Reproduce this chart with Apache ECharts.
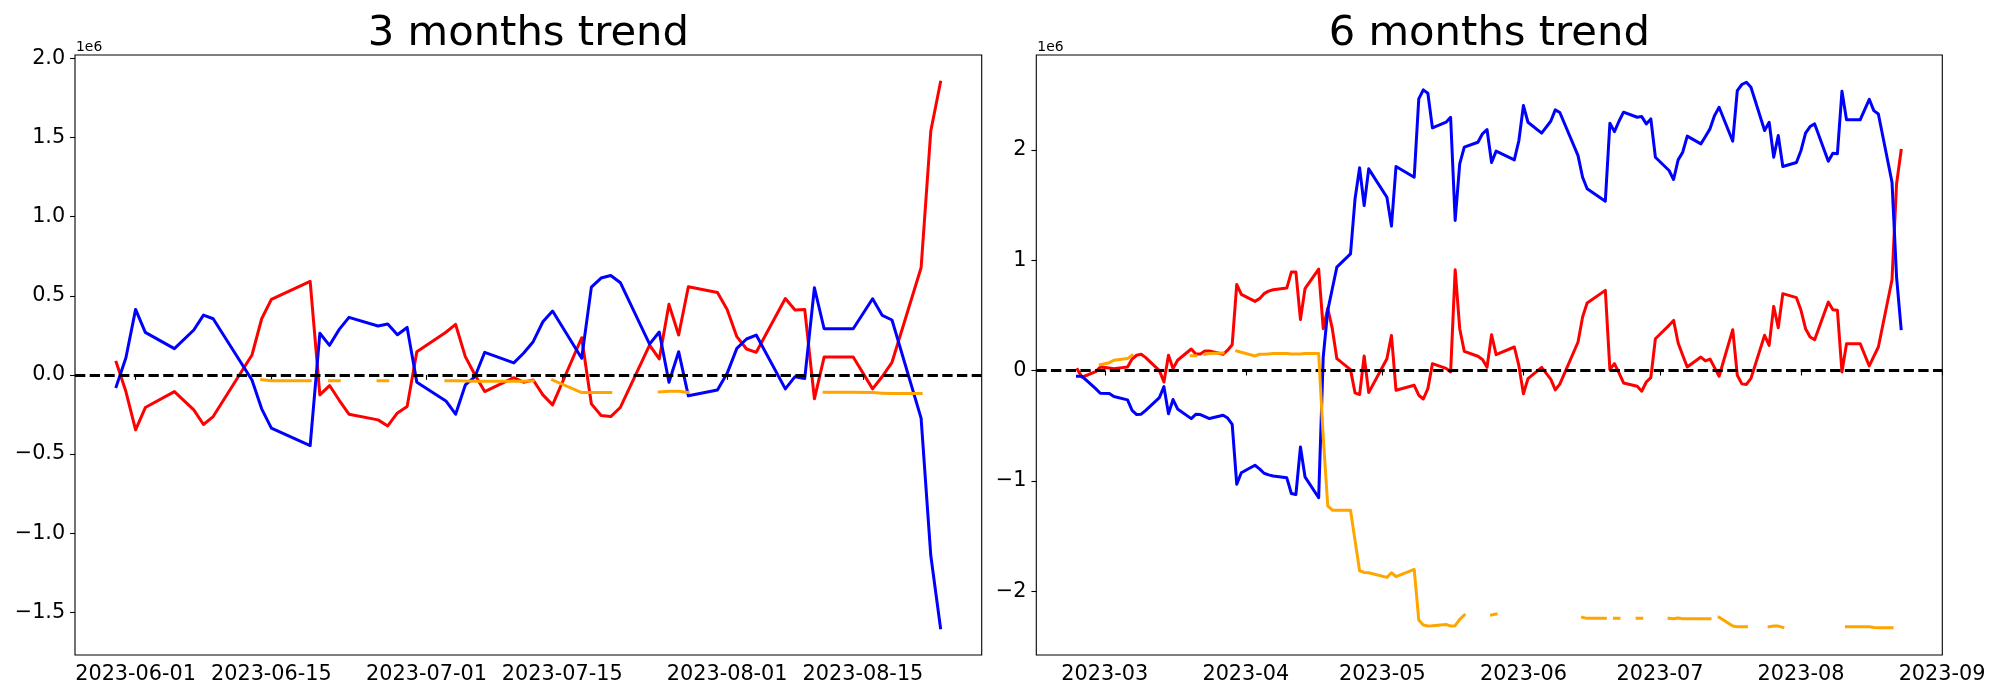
<!DOCTYPE html>
<html><head><meta charset="utf-8">
<script src="https://cdn.jsdelivr.net/npm/echarts@6/dist/echarts.min.js"></script>
<style>html,body{margin:0;padding:0;background:#fff}#c{width:2000px;height:700px}</style>
</head><body><div id="c"></div>
<script>
// ---------- DATA (values in units of 1e6) ----------
const dates6 = ['2023-02-23','2023-02-24','2023-02-27','2023-02-28','2023-03-02','2023-03-03','2023-03-06','2023-03-07','2023-03-08','2023-03-09','2023-03-10','2023-03-13','2023-03-14','2023-03-15','2023-03-16','2023-03-17','2023-03-20','2023-03-21','2023-03-22','2023-03-23','2023-03-24','2023-03-27','2023-03-28','2023-03-29','2023-03-30','2023-03-31','2023-04-03','2023-04-04','2023-04-05','2023-04-06','2023-04-07','2023-04-10','2023-04-11','2023-04-12','2023-04-13','2023-04-14','2023-04-17','2023-04-18','2023-04-19','2023-04-20','2023-04-21','2023-04-24','2023-04-25','2023-04-26','2023-04-27','2023-04-28','2023-05-02','2023-05-03','2023-05-04','2023-05-08','2023-05-09','2023-05-10','2023-05-11','2023-05-12','2023-05-15','2023-05-16','2023-05-17','2023-05-18','2023-05-19','2023-05-22','2023-05-23','2023-05-24','2023-05-25','2023-05-26',
'2023-05-30','2023-05-31','2023-06-01','2023-06-02','2023-06-05','2023-06-07','2023-06-08','2023-06-09','2023-06-13','2023-06-14','2023-06-15','2023-06-19','2023-06-20','2023-06-21','2023-06-22','2023-06-23','2023-06-26','2023-06-27','2023-06-28','2023-06-29','2023-06-30','2023-07-03','2023-07-04','2023-07-05','2023-07-06','2023-07-07','2023-07-10','2023-07-11','2023-07-12','2023-07-13','2023-07-14','2023-07-17','2023-07-18','2023-07-19','2023-07-20','2023-07-21','2023-07-24','2023-07-25','2023-07-26','2023-07-27','2023-07-28','2023-07-31','2023-08-01','2023-08-02','2023-08-03','2023-08-04','2023-08-07','2023-08-08','2023-08-09','2023-08-10','2023-08-11','2023-08-14','2023-08-16','2023-08-17','2023-08-18','2023-08-21','2023-08-22','2023-08-23'];
const red6 = [0.01,-0.06,-0.01,0.033,0.024,0.018,0.033,0.105,0.139,0.148,0.118,0.0,-0.103,0.139,0.018,0.094,0.196,0.15,0.15,0.178,0.178,0.148,0.185,0.235,0.781,0.691,0.627,0.652,0.697,0.72,0.733,0.748,0.893,0.893,0.462,0.742,0.92,0.38,0.565,0.38,0.108,0.009,-0.202,-0.217,0.132,-0.199,0.108,0.319,-0.178,-0.133,-0.223,-0.257,-0.163,0.063,0.02,-0.012,0.914,0.38,0.175,0.13,0.1,0.03,0.325,0.145,
0.214,0.045,-0.21,-0.072,0.03,-0.077,-0.175,-0.122,0.259,0.485,0.612,0.727,0.009,0.063,-0.02,-0.112,-0.142,-0.187,-0.103,-0.064,0.289,0.41,0.455,0.25,0.139,0.033,0.123,0.088,0.105,0.027,-0.051,0.371,-0.042,-0.12,-0.125,-0.07,0.32,0.229,0.582,0.389,0.697,0.661,0.546,0.38,0.305,0.28,0.621,0.552,0.546,-0.012,0.244,0.244,0.042,0.13,0.214,0.823,1.692,1.994];
const blue6 = [-0.052,-0.052,-0.163,-0.205,-0.208,-0.235,-0.265,-0.36,-0.398,-0.395,-0.36,-0.245,-0.145,-0.39,-0.262,-0.347,-0.435,-0.396,-0.398,-0.416,-0.434,-0.405,-0.43,-0.486,-1.03,-0.925,-0.857,-0.89,-0.93,-0.944,-0.955,-0.971,-1.113,-1.122,-0.691,-0.962,-1.152,0.12,0.546,0.742,0.938,1.058,1.557,1.837,1.496,1.828,1.571,1.309,1.849,1.752,2.461,2.543,2.513,2.199,2.25,2.295,1.36,1.873,2.024,2.069,2.145,2.184,1.885,1.988,
1.909,2.084,2.401,2.25,2.151,2.259,2.362,2.338,1.948,1.752,1.647,1.535,2.241,2.165,2.259,2.341,2.295,2.301,2.235,2.28,1.933,1.813,1.731,1.909,1.978,2.124,2.054,2.121,2.19,2.31,2.386,2.078,2.537,2.592,2.612,2.567,2.175,2.25,1.933,2.13,1.849,1.885,1.994,2.151,2.211,2.235,1.897,1.97,1.964,2.531,2.272,2.272,2.458,2.355,2.325,1.707,0.847,0.38];
const orange6 = [null,null,null,0.054,0.072,0.094,0.109,0.139,null,null,null,null,null,null,null,null,0.135,0.135,null,0.148,0.154,0.16,null,null,0.178,0.166,0.133,0.148,0.148,0.151,0.154,0.154,0.151,0.151,0.151,0.154,0.154,-0.6,-1.225,-1.264,-1.264,-1.264,-1.54,-1.813,-1.828,-1.831,-1.873,-1.831,-1.867,-1.801,-2.259,-2.305,-2.314,-2.311,-2.299,-2.314,-2.311,-2.253,-2.214,null,null,null,-2.214,-2.205,
null,null,null,null,null,null,null,null,null,-2.235,-2.244,-2.244,null,-2.244,-2.244,null,-2.244,-2.244,null,null,null,-2.244,-2.247,-2.241,-2.247,-2.247,-2.247,-2.247,-2.247,null,-2.235,-2.314,-2.32,-2.32,-2.32,null,null,-2.32,-2.314,-2.314,-2.326,null,null,null,null,null,null,null,null,null,-2.32,-2.32,-2.32,-2.326,-2.329,-2.329,null,null];

const dates3 = dates6.slice(64);
const red3 = [0.08,-0.105,-0.347,-0.206,-0.105,-0.221,-0.313,-0.263,0.126,0.355,0.477,0.591,-0.126,-0.067,-0.16,-0.248,-0.284,-0.322,-0.24,-0.2,0.147,0.27,0.319,0.116,0.0,-0.105,-0.017,-0.046,-0.032,-0.126,-0.189,0.235,-0.183,-0.256,-0.263,-0.204,0.189,0.101,0.446,0.252,0.557,0.521,0.414,0.242,0.164,0.143,0.483,0.41,0.414,-0.151,0.113,0.113,-0.088,-0.01,0.08,0.677,1.541,1.849];
const blue3 = [-0.074,0.109,0.414,0.269,0.166,0.284,0.378,0.355,-0.032,-0.214,-0.336,-0.446,0.263,0.187,0.288,0.364,0.309,0.322,0.254,0.30,-0.046,-0.164,-0.248,-0.063,-0.01,0.143,0.076,0.137,0.21,0.336,0.404,0.105,0.555,0.612,0.628,0.582,0.195,0.271,-0.046,0.147,-0.132,-0.095,0.01,0.168,0.227,0.252,-0.088,-0.011,-0.023,0.551,0.292,0.292,0.481,0.376,0.347,-0.273,-1.141,-1.597];
const orange3 = [null,null,null,null,null,null,null,null,null,-0.03,-0.036,-0.036,null,-0.036,-0.036,null,-0.036,-0.036,null,null,null,-0.036,-0.036,-0.038,-0.04,-0.04,-0.04,-0.04,-0.036,null,-0.032,-0.111,-0.111,-0.111,-0.111,null,null,-0.107,-0.103,-0.103,-0.111,null,null,null,null,null,null,null,null,null,-0.109,-0.109,-0.111,-0.115,-0.118,-0.118,null,null];

const xTicks3 = ['2023-06-01','2023-06-15','2023-07-01','2023-07-15','2023-08-01','2023-08-15'];
const xTicks6 = ['2023-03','2023-04','2023-05','2023-06','2023-07','2023-08','2023-09'];
const yTicks3 = [-1.5,-1.0,-0.5,0,0.5,1.0,1.5,2.0];
const yTicks6 = [-2,-1,0,1,2];
const titles = ['3 months trend','6 months trend'];
const offsetLabel = '1e6';

// ---------- helpers ----------
const DAY = 86400000;
function toDay(s){ const p = s.split('-').map(Number); return Date.UTC(p[0], p[1]-1, p[2]||1)/DAY; }
function pts(dates, vals){ return dates.map((d,i)=>[toDay(d), vals[i]==null ? '-' : vals[i]]); }
const minus = s => String(s).replace('-', '\u2212');

const FONT = 'DejaVu Sans';
const grids = [
  {left:75, top:55, width:906.7, height:600},
  {left:1036.3, top:55, width:906, height:600}
];

function xr(dates){ const a=toDay(dates[0]), b=toDay(dates[dates.length-1]); const m=(b-a)*0.05; return [a-m,b+m]; }
function yr(arrs){ let lo=Infinity, hi=-Infinity; arrs.forEach(a=>a.forEach(v=>{ if(v!=null){ lo=Math.min(lo,v); hi=Math.max(hi,v);} })); const m=(hi-lo)*0.05; return [lo-m,hi+m]; }

const xr3 = xr(dates3), xr6 = xr(dates6);
const yr3 = yr([red3,blue3,orange3]), yr6 = yr([red6,blue6,orange6]);

function xAxis(gi, range, ticks){
  const vals = ticks.map(toDay);
  return {
    type:'value', gridIndex:gi, min:range[0], max:range[1],
    axisLine:{show:false}, splitLine:{show:false},
    axisTick:{show:true, inside:false, length:4.9, lineStyle:{color:'#000', width:1.1}, customValues:vals},
    axisLabel:{show:true, margin:9.5, fontFamily:FONT, fontSize:20.8, lineHeight:20.8, color:'#000', customValues:vals,
      formatter:v=>{ const i = vals.findIndex(t=>Math.abs(t-v)<1e-6); return i>=0 ? ticks[i] : ''; }}
  };
}
function yAxis(gi, range, ticks, dec){
  return {
    type:'value', gridIndex:gi, min:range[0], max:range[1],
    axisLine:{show:false}, splitLine:{show:false},
    axisTick:{show:true, inside:false, length:4.9, lineStyle:{color:'#000', width:1.1}, customValues:ticks},
    axisLabel:{show:true, margin:9.8, fontFamily:FONT, fontSize:20.8, color:'#000', customValues:ticks,
      formatter:v=>minus(Number(v).toFixed(dec))}
  };
}
function line(xi, data, color, z){
  return {type:'line', xAxisIndex:xi, yAxisIndex:xi, data, showSymbol:false, symbol:'none',
    lineStyle:{color, width:3, join:'round', cap:'square'}, itemStyle:{color},
    connectNulls:false, silent:true, animation:false, z};
}
function zeroLine(){
  return {silent:true, symbol:['none','none'], label:{show:false}, animation:false,
    lineStyle:{color:'#000', width:2.78, type:[10.3,4.4], cap:'butt'}, emphasis:{disabled:true},
    data:[{yAxis:0}]};
}

const series = [];
[[dates3,red3,blue3,orange3],[dates6,red6,blue6,orange6]].forEach((s,gi)=>{
  series.push(line(gi, pts(s[0],s[1]), '#ff0000', 2));
  series.push(line(gi, pts(s[0],s[2]), '#0000ff', 3));
  const o = line(gi, pts(s[0],s[3]), '#ffa500', 4);
  o.markLine = zeroLine();
  o.z = 5;
  series.push(o);
});

const graphic = [];
grids.forEach((g,i)=>{
  graphic.push({type:'text', x:g.left+g.width/2, y:34.3, silent:true,
    style:{text:titles[i], font:'41.7px "DejaVu Sans"', fill:'#000', textAlign:'center', textVerticalAlign:'middle'}});
  graphic.push({type:'text', x:g.left+1, y:47, silent:true,
    style:{text:offsetLabel, font:'13.9px "DejaVu Sans"', fill:'#000', textAlign:'left', textVerticalAlign:'middle'}});
});

const chart = echarts.init(document.getElementById('c'), null, {renderer:'canvas'});
chart.setOption({
  animation:false,
  backgroundColor:'#fff',
  grid: grids.map(g=>Object.assign({show:true, borderColor:'#000', borderWidth:1.1, backgroundColor:'transparent', containLabel:false}, g)),
  xAxis:[xAxis(0,xr3,xTicks3), xAxis(1,xr6,xTicks6)],
  yAxis:[yAxis(0,yr3,yTicks3,1), yAxis(1,yr6,yTicks6,0)],
  series,
  graphic
});
</script>
</body></html>
